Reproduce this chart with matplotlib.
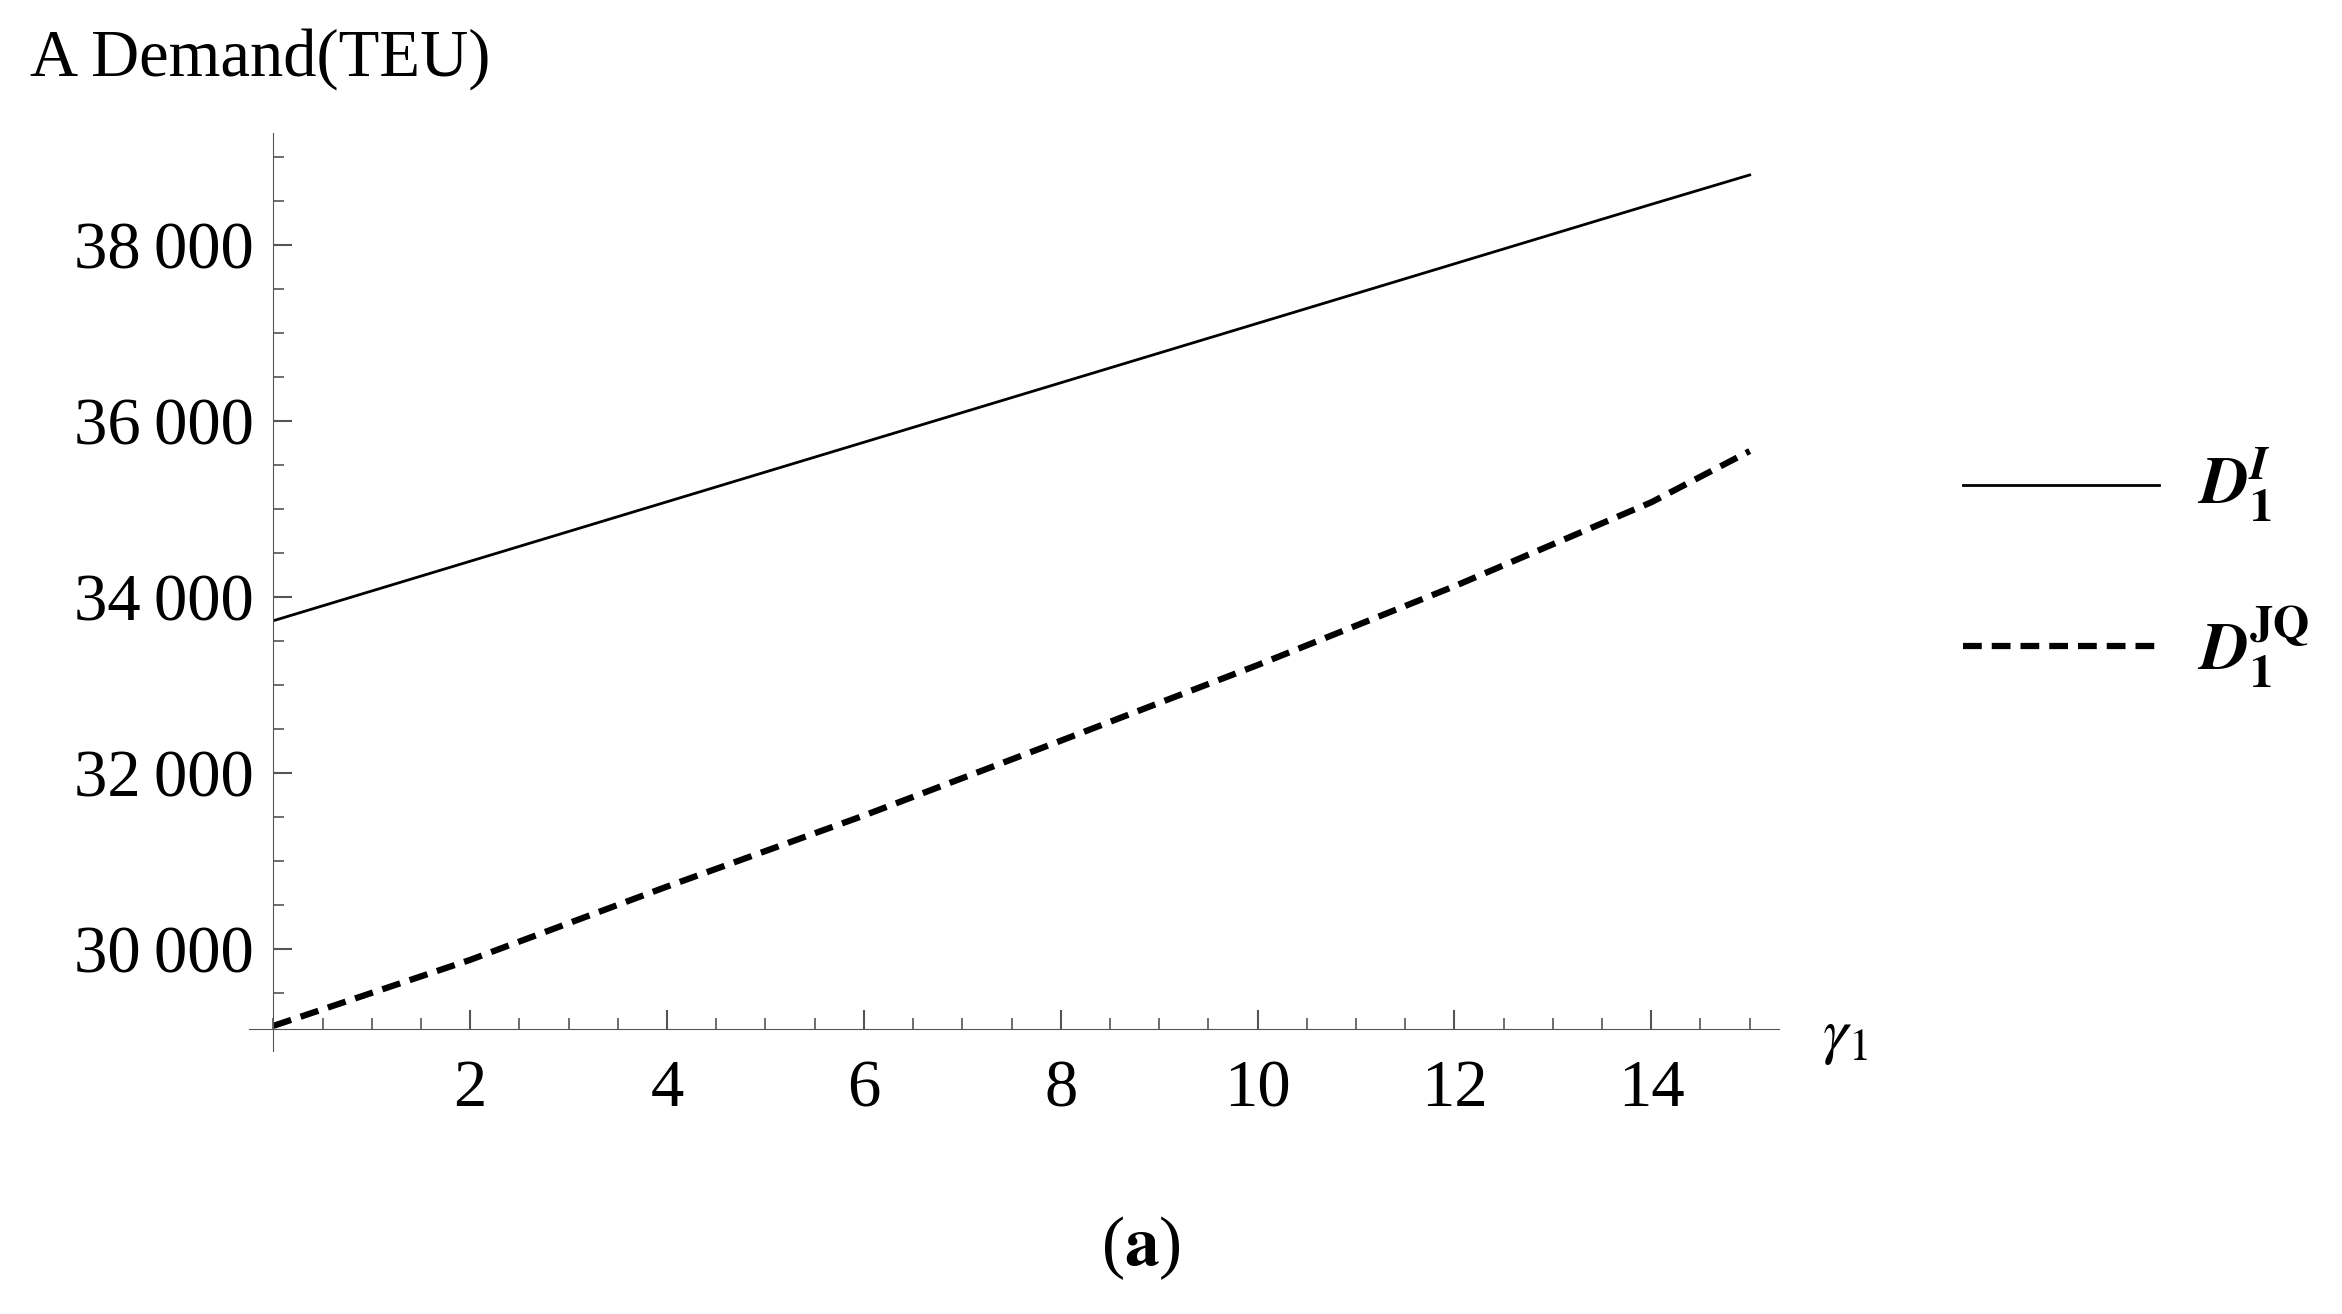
import matplotlib
matplotlib.use("Agg")
import matplotlib.pyplot as plt
from matplotlib.ticker import MultipleLocator, FuncFormatter

gamma = [0, 2, 4, 6, 8, 10, 12, 14, 15]
d_I = [33734, 34410, 35086, 35762, 36438, 37114, 37790, 38466, 38800]
d_JQ = [29130, 29880, 30713, 31520, 32370, 33230, 34126, 35080, 35662]
xticks = [2, 4, 6, 8, 10, 12, 14]
yticks = [30000, 32000, 34000, 36000, 38000]

plt.rcParams['font.family'] = ['Liberation Serif', 'DejaVu Serif']
plt.rcParams['mathtext.fontset'] = 'stix'
fig = plt.figure(figsize=(23.42, 13.14), dpi=100)
ax = fig.add_axes([0.1167, 0.217, 0.643, 0.682])
dash = (0, (3.0, 1.6))
ax.plot(gamma, d_I, color='black', lw=2)
ax.plot(gamma, d_JQ, color='black', lw=4.5, ls=dash)
ax.set_xlim(0, 15.3)
ax.set_ylim(29096, 39280)
for s in ['top', 'right']:
    ax.spines[s].set_visible(False)
ax.spines['left'].set_color('#555555')
ax.spines['bottom'].set_color('#555555')
ax.spines['left'].set_bounds(28850, 39280)
ax.spines['bottom'].set_bounds(-0.25, 15.3)
ax.set_xticks(xticks)
ax.set_yticks(yticks)
ax.xaxis.set_minor_locator(MultipleLocator(0.5))
ax.yaxis.set_minor_locator(MultipleLocator(500))
ax.yaxis.set_major_formatter(FuncFormatter(lambda v, p: f"{int(v):,}".replace(',', '\u2009')))
ax.tick_params(which='both', direction='in', color='#555555')
ax.tick_params(which='major', length=14, width=1.5, labelsize=48, pad=14)
ax.tick_params(which='minor', length=8, width=1.2)
ax.tick_params(axis='x', pad=22)
fig.text(0.013, 0.955, 'A Demand(TEU)', fontsize=48, va='center')
fig.text(0.778, 0.21, r'$\gamma_1$', fontsize=46, va='center')
fig.text(0.487, 0.05, r'($\mathbf{a}$)', fontsize=50, ha='center', va='center')
fig.lines.append(plt.Line2D([0.838, 0.922], [0.631, 0.631], color='black', lw=2, transform=fig.transFigure))
fig.lines.append(plt.Line2D([0.838, 0.922], [0.508, 0.508], color='black', lw=4.5, ls=dash, transform=fig.transFigure))
fig.text(0.938, 0.631, r'$\boldsymbol{D}_{\mathbf{1}}^{\boldsymbol{I}}$', fontsize=48, va='center')
fig.text(0.938, 0.508, r'$\boldsymbol{D}_{\mathbf{1}}^{\mathbf{JQ}}$', fontsize=48, va='center')
fig.savefig('out.png', dpi=100)
